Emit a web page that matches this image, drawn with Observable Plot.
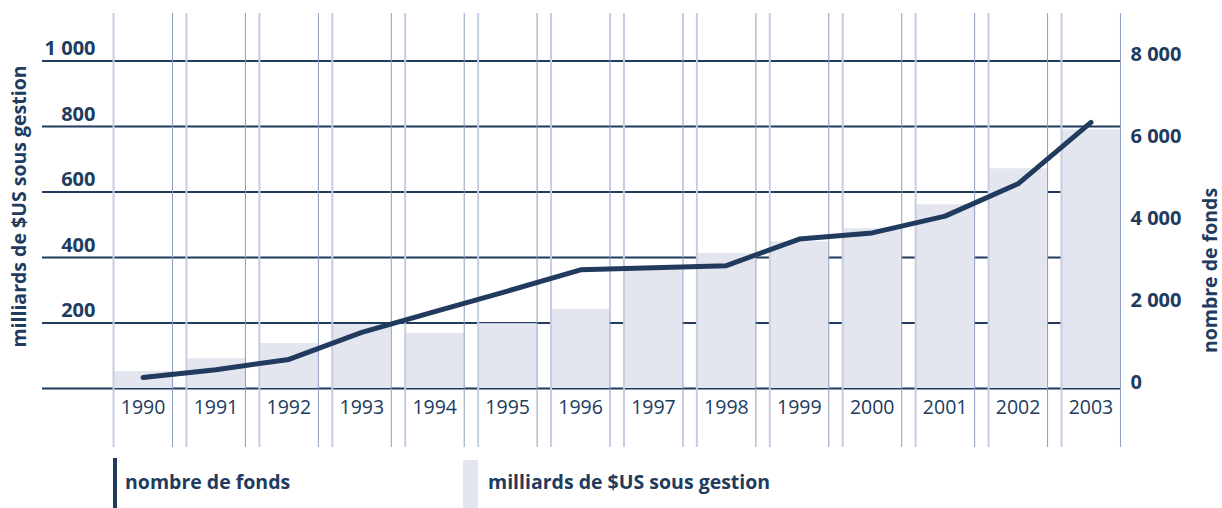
<!DOCTYPE html>
<html><head><meta charset="utf-8">
<script src="https://cdn.jsdelivr.net/npm/d3@7"></script>
<script src="https://cdn.jsdelivr.net/npm/@observablehq/plot@0.6"></script>
<style>
body{margin:0;background:#fff;font-family:"Open Sans",sans-serif;}
#wrap{position:relative;width:1222px;height:508px;overflow:hidden;}
#chart svg{display:block;}
.legend{position:relative;height:58px;width:1222px;}
.sw{position:absolute;}
.lt{position:absolute;font-weight:bold;font-size:19.5px;color:#213b5e;line-height:22px;white-space:nowrap;}
</style></head><body>
<div id="wrap"><div id="chart"></div>
<div class="legend">
  <div class="sw" style="left:113px;top:8px;width:4px;height:50px;background:#213b5e;"></div>
  <div class="lt" id="l1" style="left:125px;top:21px;"></div>
  <div class="sw" style="left:463px;top:10px;width:15px;height:48px;background:#e3e6ef;"></div>
  <div class="lt" id="l2" style="left:488px;top:21px;"></div>
</div></div>
<script>
const years = [1990,1991,1992,1993,1994,1995,1996,1997,1998,1999,2000,2001,2002,2003];
const assets = [52,91,137,195,168,198,241,365,412,448,488,561,671,790];
const funds = [270,460,710,1370,1880,2380,2900,2950,3000,3650,3800,4210,5000,6500];
const leftTicks = [0,200,400,600,800,1000];
const leftTickLabels = [200,400,600,800,1000];
const rightTicks = [0,2000,4000,6000,8000];
const leftTitle = "milliards de $US sous gestion";
const rightTitle = "nombre de fonds";

const navy = "#213b5e";
const data = years.map((year,i)=>({year, assets:assets[i], funds:funds[i]}));
const fmt = d => d3.format(",")(d).replace(/,/g," ");

document.getElementById("l1").textContent = rightTitle;
document.getElementById("l2").textContent = leftTitle;

const chart = Plot.plot({
  width:1222, height:450,
  marginTop:13, marginBottom:3, marginLeft:42, marginRight:102,
  style:{fontFamily:"'Open Sans', sans-serif", color:navy, background:"transparent"},
  x:{type:"band", domain:years, range:[113,1120], paddingInner:0.19, paddingOuter:0, round:false, axis:null},
  y:{domain:[0,1000], range:[388,60.5], axis:null},
  marks:[
    Plot.ruleY(leftTicks, {stroke:navy, strokeWidth:2}),
    Plot.barY(data, {x:"year", y:"assets", fill:"#e3e6ef"}),
    Plot.ruleX(years, {x:d=>d, stroke:"#c6cce1", strokeWidth:2, dx:-29.5}),
    Plot.ruleX(years, {x:d=>d, stroke:"#8e9cc6", strokeWidth:1, dx:29.5}),
    Plot.line(data, {x:"year", y:d=>d.funds/8, stroke:navy, strokeWidth:5, strokeLinecap:"round", strokeLinejoin:"round"}),
    Plot.text(data, {x:"year", y:()=>0, text:d=>String(d.year), dy:19, fontSize:19.5, fill:navy}),
    Plot.axisY(leftTickLabels, {anchor:"left", label:null, tickSize:0, tickPadding:0, dx:53, dy:-12, textAnchor:"end", fontSize:20, fontWeight:"bold", fill:navy, tickFormat:fmt}),
    Plot.axisY(rightTicks.map(d=>d/8), {anchor:"right", label:null, tickSize:0, tickPadding:10, dy:-6, textAnchor:"start", fontSize:20, fontWeight:"bold", fill:navy, tickFormat:d=>fmt(d*8)}),
    Plot.text([leftTitle], {frameAnchor:"left", textAnchor:"middle", rotate:-90, dx:-23, dy:-24, fontSize:19.5, fontWeight:"bold", fill:navy}),
    Plot.text([rightTitle], {frameAnchor:"right", textAnchor:"middle", rotate:-90, dx:90, dy:40, fontSize:19.5, fontWeight:"bold", fill:navy})
  ]
});
document.getElementById("chart").appendChild(chart);
</script>
</body></html>
